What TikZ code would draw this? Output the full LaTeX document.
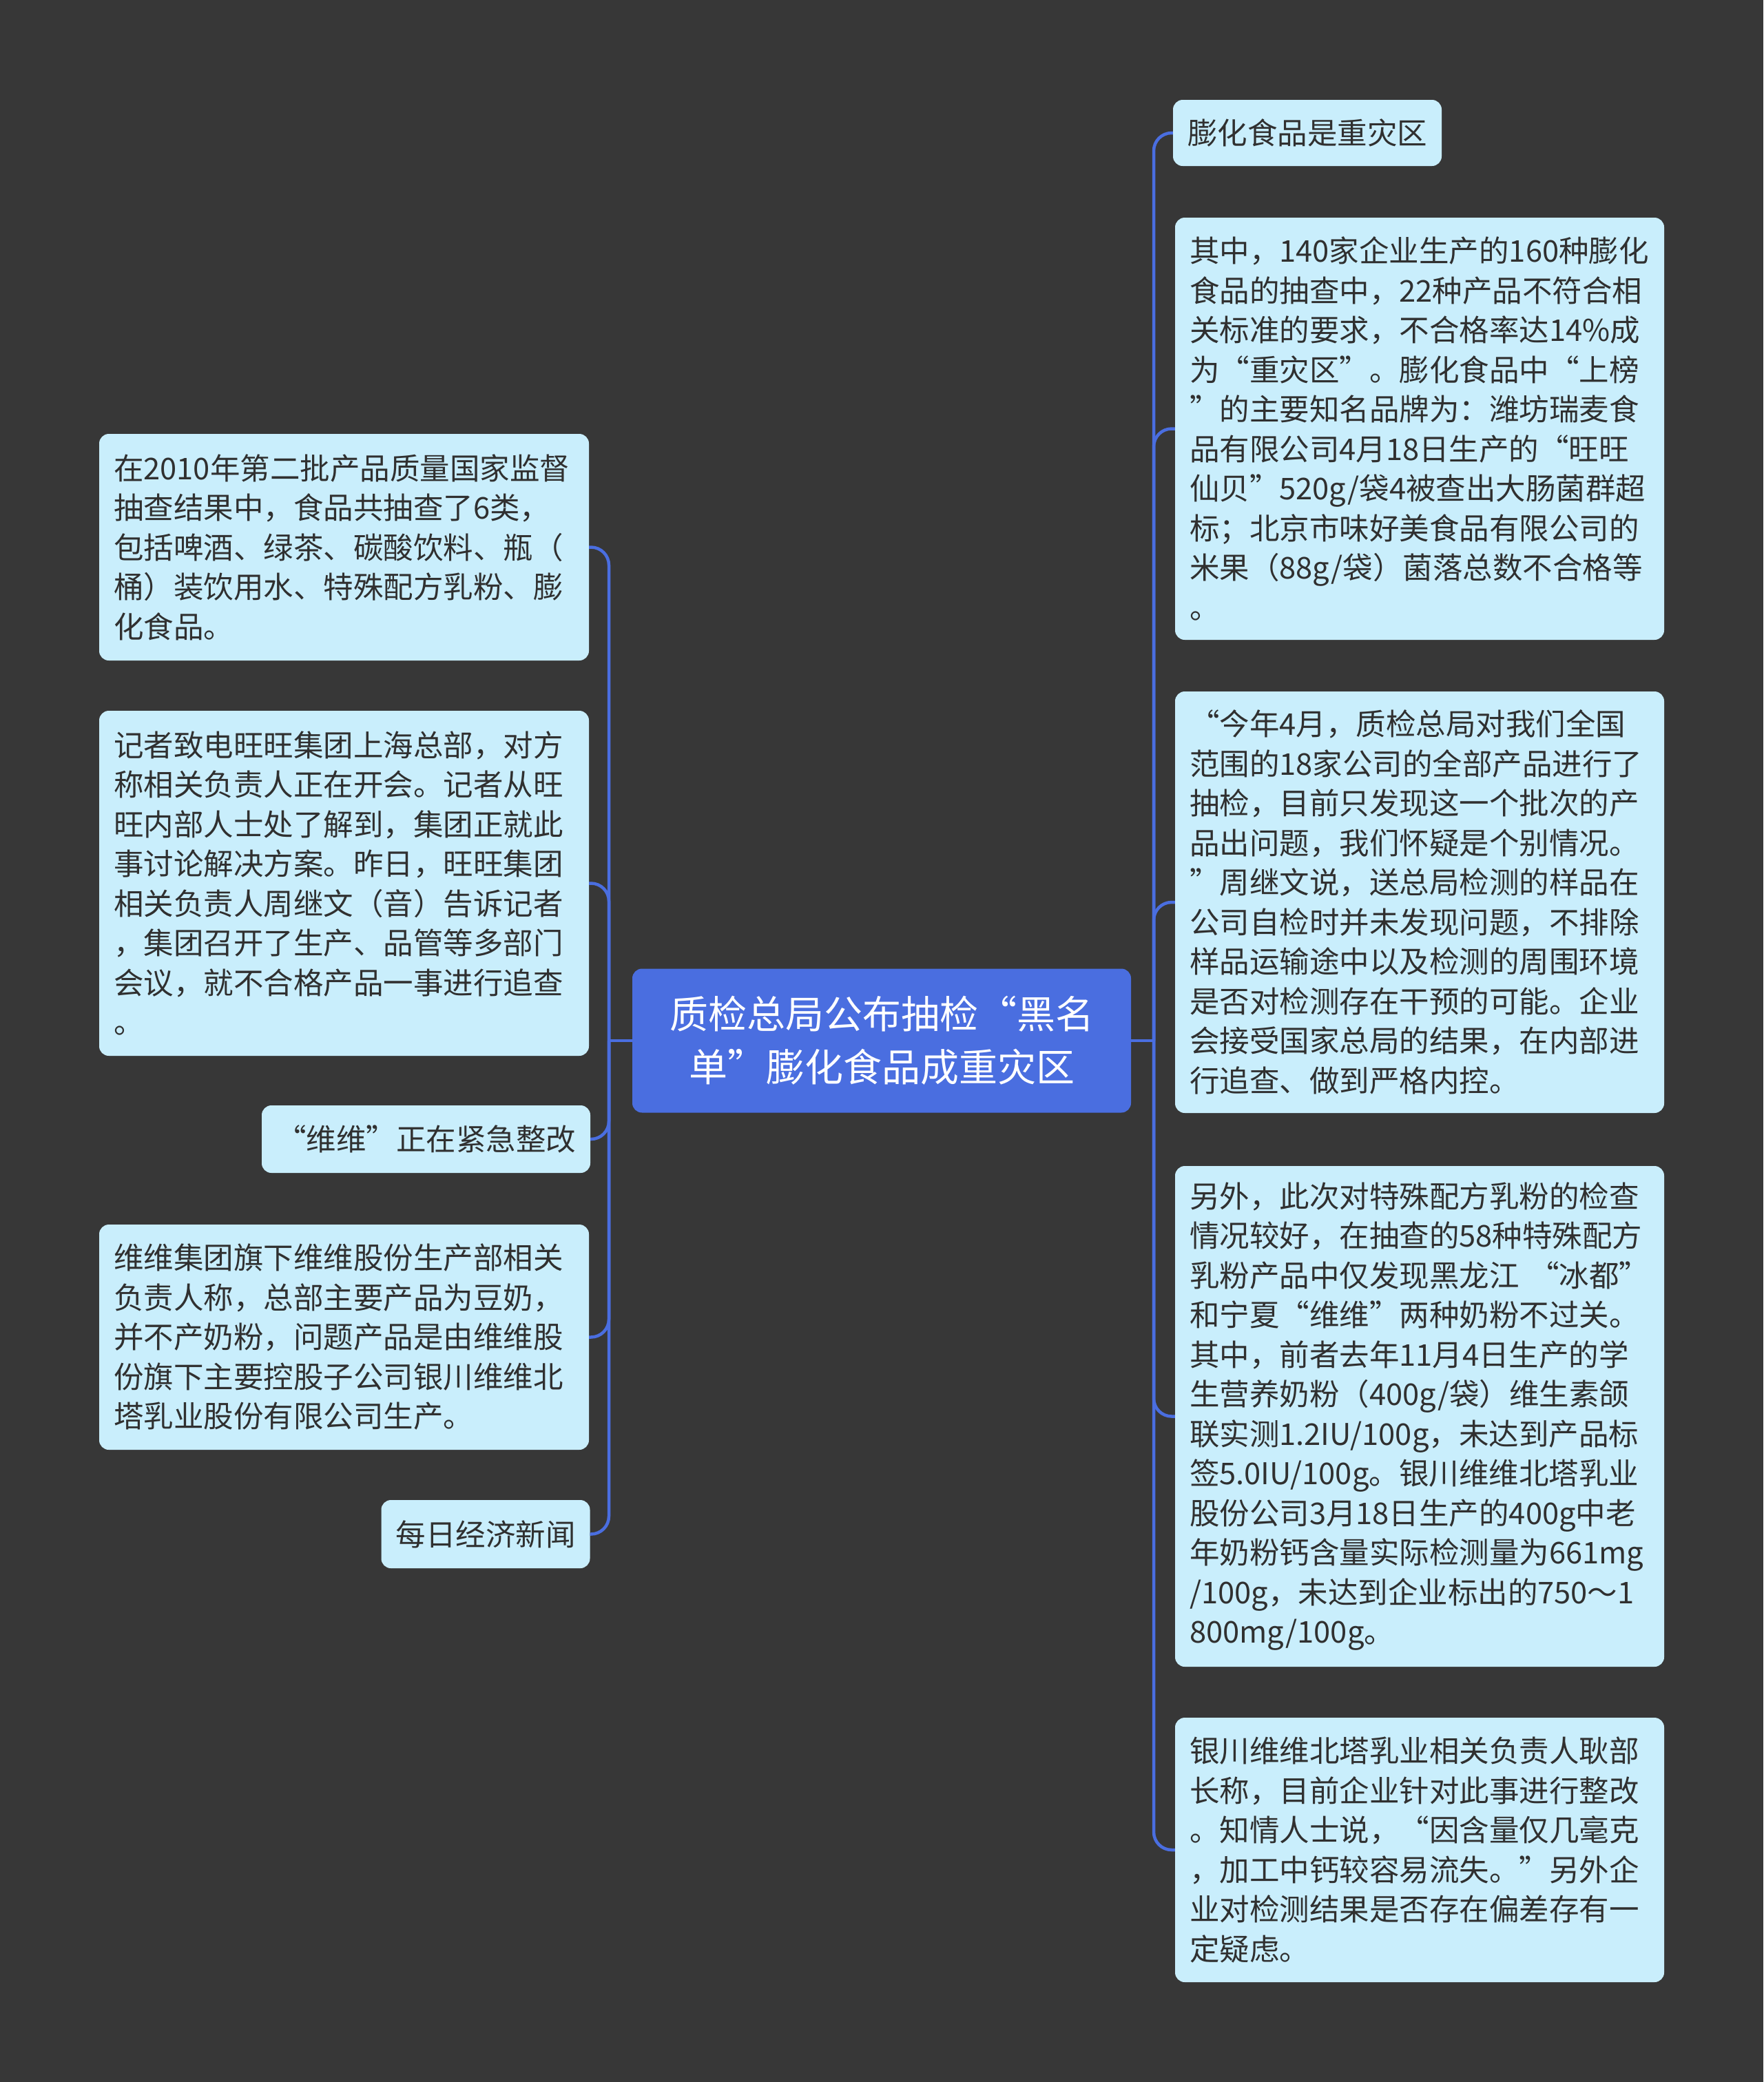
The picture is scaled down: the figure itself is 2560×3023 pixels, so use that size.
\documentclass[tikz,border=0pt]{standalone}
\usepackage{fontspec}
\setmainfont{Noto Sans CJK SC}
\definecolor{bg}{HTML}{373737}
\definecolor{leaf}{HTML}{C9EEFC}
\definecolor{rootc}{HTML}{4A6EE0}
\definecolor{linec}{HTML}{4A6EE0}
\definecolor{txt}{HTML}{303030}
\tikzset{
  leafbox/.style={fill=leaf, rounded corners=14, text=txt, font=\fontsize{43.5pt}{57.5pt}\selectfont, inner xsep=21, inner ysep=0, align=left},
  rootbox/.style={fill=rootc, rounded corners=14, text=white, font=\fontsize{56pt}{77pt}\selectfont, inner xsep=21, inner ysep=0, align=center},
  conn/.style={draw=linec, line width=4.5, rounded corners=26},
}
\begin{document}
\begin{tikzpicture}[x=1pt,y=-1pt]
\fill[bg] (0,0) rectangle (2560,3023);
\useasboundingbox (0,0) rectangle (2560,3023);

\node[rootbox, text width=682, minimum height=209] (root) at (1280,1511) {质检总局公布抽检“黑名\\单”膨化食品成重灾区};

% right
\node[leafbox, minimum width=384, minimum height=96] (R1) at (1898,193) {膨化食品是重灾区};
\node[leafbox, text width=668, minimum height=613] (R2) at (2061,622.5) {其中，140家企业生产的160种膨化\\食品的抽查中，22种产品不符合相\\关标准的要求，不合格率达14\%成\\为“重灾区”。膨化食品中“上榜\\”的主要知名品牌为：潍坊瑞麦食\\品有限公司4月18日生产的“旺旺\\仙贝”520g/袋4被查出大肠菌群超\\标；北京市味好美食品有限公司的\\米果（88g/袋）菌落总数不合格等\\。};
\node[leafbox, text width=668, minimum height=612] (R3) at (2061,1310) {“今年4月，质检总局对我们全国\\范围的18家公司的全部产品进行了\\抽检，目前只发现这一个批次的产\\品出问题，我们怀疑是个别情况。\\”周继文说，送总局检测的样品在\\公司自检时并未发现问题，不排除\\样品运输途中以及检测的周围环境\\是否对检测存在干预的可能。企业\\会接受国家总局的结果，在内部进\\行追查、做到严格内控。};
\node[leafbox, text width=668, minimum height=727] (R4) at (2061,2056.5) {另外，此次对特殊配方乳粉的检查\\情况较好，在抽查的58种特殊配方\\乳粉产品中仅发现黑龙江 “冰都”\\和宁夏“维维”两种奶粉不过关。\\其中，前者去年11月4日生产的学\\生营养奶粉（400g/袋）维生素颌\\联实测1.2IU/100g，未达到产品标\\签5.0IU/100g。银川维维北塔乳业\\股份公司3月18日生产的400g中老\\年奶粉钙含量实际检测量为661mg\\/100g，未达到企业标出的750～1\\800mg/100g。};
\node[leafbox, text width=668, minimum height=384] (R5) at (2061,2686) {银川维维北塔乳业相关负责人耿部\\长称，目前企业针对此事进行整改\\。知情人士说，“因含量仅几毫克\\，加工中钙较容易流失。”另外企\\业对检测结果是否存在偏差存有一\\定疑虑。};

% left
\node[leafbox, text width=669, minimum height=329] (L1) at (499.5,794.5) {在2010年第二批产品质量国家监督\\抽查结果中，食品共抽查了6类，\\包括啤酒、绿茶、碳酸饮料、瓶（\\桶）装饮用水、特殊配方乳粉、膨\\化食品。};
\node[leafbox, text width=669, minimum height=501] (L2) at (499.5,1282.5) {记者致电旺旺集团上海总部，对方\\称相关负责人正在开会。记者从旺\\旺内部人士处了解到，集团正就此\\事讨论解决方案。昨日，旺旺集团\\相关负责人周继文（音）告诉记者\\，集团召开了生产、品管等多部门\\会议，就不合格产品一事进行追查\\。};
\node[leafbox, minimum width=473, minimum height=98] (L3) at (618.5,1654) {“维维”正在紧急整改};
\node[leafbox, text width=669, minimum height=327] (L4) at (499.5,1941.5) {维维集团旗下维维股份生产部相关\\负责人称，总部主要产品为豆奶，\\并不产奶粉，问题产品是由维维股\\份旗下主要控股子公司银川维维北\\塔乳业股份有限公司生产。};
\node[leafbox, minimum width=300, minimum height=99] (L5) at (705,2227.5) {每日经济新闻};

% connectors
\coordinate (rj) at (1675,1511);
\coordinate (lj) at (884,1511);
\draw[conn] (root.east) -- (rj);
\draw[conn] (root.west) -- (lj);
\foreach \n in {R1,R2,R3,R4,R5} \draw[conn] (rj) |- (\n.west);
\foreach \n in {L1,L2,L3,L4,L5} \draw[conn] (lj) |- (\n.east);
\end{tikzpicture}
\end{document}
